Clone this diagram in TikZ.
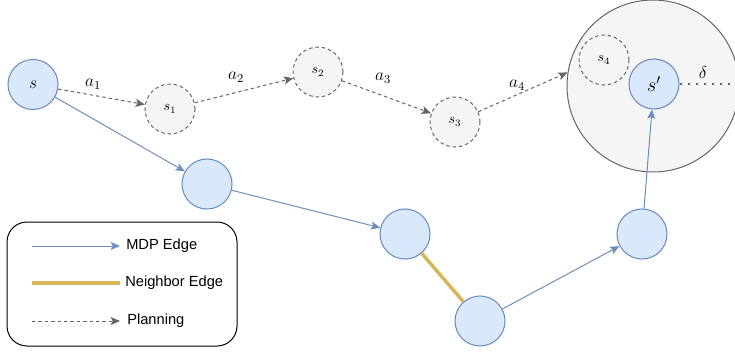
\RequirePackage{fix-cm}
\documentclass[tikz,border=0pt]{standalone}
\usepackage{fontspec}
\setsansfont{Liberation Sans}
\usetikzlibrary{arrows.meta}
\definecolor{bfill}{HTML}{DAE8FC}
\definecolor{bdraw}{HTML}{6C8EBF}
\definecolor{gfill}{HTML}{F5F5F5}
\definecolor{gdraw}{HTML}{666666}
\definecolor{ydraw}{HTML}{D6B656}
\tikzset{
  bnode/.style={circle, draw=bdraw, fill=bfill, line width=0.8pt, minimum size=37.5pt, inner sep=0pt, font=\fontsize{13}{15}\selectfont},
  gnode/.style={circle, draw=gdraw, fill=gfill, line width=0.75pt, dash pattern=on 2.6pt off 2.2pt, minimum size=37.5pt, inner sep=0pt, font=\fontsize{10.5}{12}\selectfont},
  mdp/.style={draw=bdraw, line width=0.75pt, -{Stealth[length=7pt,width=6pt,inset=1.5pt]}},
  plan/.style={draw=gdraw, line width=0.75pt, dash pattern=on 2.6pt off 2.2pt, -{Stealth[length=7pt,width=6pt,inset=1.5pt]}},
  nbr/.style={draw=ydraw, line width=2.6pt},
  alab/.style={font=\fontsize{13}{15}\selectfont, inner sep=1pt},
  legtext/.style={anchor=west, font=\sffamily\fontsize{11}{13}\selectfont, inner sep=0pt}
}
\begin{document}
\begin{tikzpicture}[x=0.75pt, y=-0.75pt]
\useasboundingbox (0,0) rectangle (735,354);
% big neighborhood circle
\node (big) [circle, draw=gdraw, fill=gfill, line width=0.75pt, minimum size=129pt, inner sep=0pt] at (653,86) {};
% nodes
\node (s) [bnode] at (33,84.5) {$s$};
\node (s1) [gnode] at (170,109) {$s_1$};
\node (s2) [gnode] at (318,72) {$s_2$};
\node (s3) [gnode] at (455,122) {$s_3$};
\node (s4) [gnode] at (604,60) {$s_4$};
\node (sp) [bnode, font=\fontsize{15}{17}\selectfont] at (654,84) {$s'$};
\node (n1) [bnode] at (207,184) {};
\node (n2) [bnode] at (405,234) {};
\node (n3) [bnode] at (480,321) {};
\node (n4) [bnode] at (642,234) {};
% planning edges
\draw[plan] (s) -- (s1);
\draw[plan] (s1) -- (s2);
\draw[plan] (s2) -- (s3);
\draw[plan] (s3) -- (big.171);
\node[alab] (la1) at (93,84) {$a_1$};
\node[alab] (la2) at (236,77) {$a_2$};
\node[alab] (la3) at (383,78) {$a_3$};
\node[alab] (la4) at (517,85) {$a_4$};
% delta
\coordinate (dend) at (740,84);
\draw[draw=gdraw, line width=1.8pt, dash pattern=on 1.8pt off 4.2pt] (sp) -- (dend);
\node[alab] (ld) at (703,72) {$\delta$};
% MDP edges
\draw[mdp] (s) -- (n1);
\draw[mdp] (n1) -- (n2);
\draw[nbr] (n2) -- (n3);
\draw[mdp] (n3) -- (n4);
\draw[mdp] (n4) -- (sp);
% legend
\node (leg) [draw=black, line width=0.75pt, rounded corners=15pt, minimum width=172.5pt, minimum height=93pt, inner sep=0pt] at (122,284) {};
\coordinate (l1a) at (32,246); \coordinate (l1b) at (120,246);
\coordinate (l2a) at (32,283); \coordinate (l2b) at (120,283);
\coordinate (l3a) at (32,321); \coordinate (l3b) at (120,321);
\draw[mdp] (l1a) -- (l1b);
\draw[nbr] (l2a) -- (l2b);
\draw[plan] (l3a) -- (l3b);
\node[legtext] (t1) at (126,246) {MDP Edge};
\node[legtext] (t2) at (125,283) {Neighbor Edge};
\node[legtext] (t3) at (127,321) {Planning};
\end{tikzpicture}
\end{document}
